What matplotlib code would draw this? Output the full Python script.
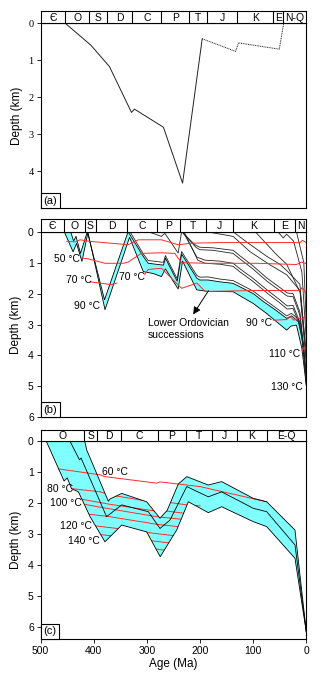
import numpy as np
import matplotlib.pyplot as plt
from matplotlib.offsetbox import AnchoredText

plt.rcParams['font.family'] = ['Liberation Sans', 'DejaVu Sans']
plt.rcParams['font.size'] = 7.5
plt.rcParams['axes.linewidth'] = 0.8

# ---------------- data (a) ----------------
a_age = [491, 439, 401, 356, 350, 291, 252, 212]
a_depth = [0, 0.59, 1.17, 2.41, 2.32, 2.81, 4.32, 0.42]
a_age_dot = [212, 144, 138, 55, 46]
a_depth_dot = [0.42, 0.76, 0.53, 0.70, 0.0]
a_bounds = [491, 442, 405, 354.5, 295.4, 238.4, 201.7, 140.6, 67.3, 46.9]
a_periods = ['Є', 'O', 'S', 'D', 'C', 'P', 'T', 'J', 'K', 'E', 'N-Q']

# ---------------- data (b) ----------------
b_bounds = [493.5, 451.4, 427.8, 364.6, 304.1, 257.3, 204.3, 148.7, 65.8, 23.1]
b_periods = ['Є', 'O', 'S', 'D', 'C', 'P', 'T', 'J', 'K', 'E', 'N']

# Lower Ordovician succession: top and base horizons
b_top_age = [480, 474, 469, 460, 446, 411, 363, 332, 322, 291, 287, 263, 254, 223, 217,
             200, 176, 149, 108, 88, 67, 40, 30, 16, 6, 0]
b_top_depth = [0, 0.3, 0.15, 0.7, 0, 2.2, 0, 0.8, 1.02, 1.08, 0.85, 1.6, 0.72, 1.5, 1.56,
               1.56, 1.62, 1.67, 2.0, 2.25, 2.48, 2.8, 2.72, 2.91, 3.67, 4.95]
b_base_age = [493, 475, 468, 457, 444.7, 410, 360, 332, 312, 295, 287, 261, 252, 223,
              200, 149, 108, 81, 40, 31, 20, 9, 0]
b_base_depth = [0, 0.65, 0.38, 0.96, 0.02, 2.52, 0.18, 1.29, 1.35, 1.45, 1.2, 1.85, 0.95,
                1.88, 1.93, 1.94, 2.32, 2.64, 3.18, 3.05, 3.02, 3.77, 4.97]

# younger horizons
b_hor = {
    'upper_O': ([359, 332, 322, 291, 287, 263, 254, 223, 217, 200, 176, 149, 108, 88, 67,
                 40, 30, 16, 6, 0],
                [0, 0.72, 0.93, 0.99, 0.77, 1.52, 0.64, 1.41, 1.47, 1.46, 1.53, 1.58, 1.92,
                 2.16, 2.4, 2.72, 2.64, 2.83, 3.6, 4.9]),
    'P': ([322, 295, 288, 261, 254], [0, 0.15, 0.05, 0.69, 0]),
    'T1': ([254, 227, 217, 190, 149, 135, 109, 80, 54, 39, 27, 13, 0],
           [0, 0.42, 0.5, 0.52, 0.6, 0.78, 1.1, 1.5, 1.8, 1.98, 2.0, 2.6, 4.6]),
    'T2': ([253, 225, 217, 190, 149, 135, 109, 80, 54, 39, 27, 13, 0],
           [0, 0.5, 0.58, 0.6, 0.7, 0.88, 1.2, 1.6, 1.9, 2.08, 2.1, 2.7, 4.65]),
    'T3': ([251, 223, 206, 176, 149, 135, 109, 80, 54, 39, 27, 11, 0],
           [0, 0.82, 0.92, 0.95, 1.02, 1.2, 1.5, 1.88, 2.2, 2.4, 2.38, 3.0, 4.75]),
    'T4': ([249, 221, 206, 176, 149, 135, 109, 80, 54, 39, 27, 11, 0],
           [0, 0.92, 1.02, 1.05, 1.12, 1.3, 1.6, 1.98, 2.3, 2.5, 2.48, 3.1, 4.8]),
    'J': ([203, 149, 115, 74, 40, 13, 0], [0, 0.15, 0.64, 1.07, 1.39, 1.9, 4.3]),
    'K1': ([149, 120, 80, 54, 40, 13, 0], [0, 0.35, 0.8, 1.05, 1.25, 1.7, 4.1]),
    'K2': ([104, 60, 40, 12, 0], [0, 0.75, 1.05, 1.98, 3.9]),
    'E': ([58, 47, 40, 26, 9, 0], [0, 0.2, 0.08, 0.3, 1.3, 3.5]),
    'N': ([20, 5, 0], [0, 1.0, 3.0]),
}

# isotherms (b)
b_iso = [
    ([488, 470, 461, 441, 363, 342, 295, 261, 234, 176, 13, 8, 0],
     [0.31, 0.33, 0.26, 0.31, 0.42, 0.26, 0.26, 0.42, 0.37, 0.35, 0.35, 0.28, 0.35]),
    ([457.5, 446, 410, 372, 363, 336, 295, 268, 254, 200, 100, 20, 10, 0],
     [0.85, 0.87, 1.02, 1.02, 0.98, 0.7, 0.68, 0.7, 1.0, 1.02, 1.02, 1.06, 0.98, 1.03]),
    ([440.6, 396.4, 386], [1.62, 1.71, 1.66]),
    ([329, 322, 295, 254, 223, 206, 100, 13, 8, 0],
     [1.38, 1.22, 1.18, 1.83, 1.66, 1.93, 1.9, 1.9, 1.8, 2.0]),
    ([67, 40, 33, 25, 16, 8, 4, 0], [2.86, 2.84, 2.75, 2.86, 2.8, 2.83, 2.75, 2.82]),
    ([8, 4, 0], [3.85, 3.72, 3.8]),
]
b_labels = ['50 °C', '70 °C', '70 °C', '90 °C', '90 °C', '110 °C', '130 °C']
b_lab_age = [461, 436.5, 328.6, 420.2, 69.9, 12.9, 6.8]
b_lab_depth = [0.89, 1.56, 1.46, 2.40, 2.94, 3.94, 5.02]

# ---------------- data (c) ----------------
c_bounds = [418.5, 393.4, 348.3, 279.2, 227.0, 176.9, 131.0, 73.4]
c_periods = ['O', 'S', 'D', 'C', 'P', 'T', 'J', 'K', 'E-Q']

c_base_age = [490, 456, 450, 442, 429, 407, 379, 347.5, 300.5, 275, 244, 222, 184.5,
              159.3, 99.8, 74.5, 21.3, 0]
c_base_depth = [0, 1.3, 1.2, 1.55, 1.65, 2.45, 3.26, 2.72, 2.94, 3.74, 2.88, 1.97, 2.32,
                2.13, 2.61, 2.77, 3.79, 6.16]
c_mid_age = [445.4, 430.5, 427, 424, 376, 347.5, 297.4, 275.4, 256.6, 225, 184.5, 159.3,
             99.8, 74.5, 21.3, 0]
c_mid_depth = [0, 0.5, 0.62, 0.56, 2.45, 2.07, 2.29, 2.83, 2.56, 1.48, 1.81, 1.65, 2.18,
               2.29, 3.36, 6.16]
c_top_age = [417.2, 413.4, 372.7, 369.5, 347.5, 300.5, 275.4, 262, 241, 225, 184.5, 159.3,
             99.8, 74.5, 21.3, 0]
c_top_depth = [0, 0.3, 1.95, 1.88, 1.7, 1.97, 2.5, 2.25, 1.4, 1.16, 1.43, 1.32, 1.86, 1.97,
               2.88, 6.16]

c_iso60 = ([466.9, 388.4, 379, 281.6, 275.4, 200.1, 74.5],
           [0.91, 1.1, 1.16, 1.37, 1.33, 1.48, 1.97])
c_iso = [
    ([445, 388, 369, 282, 275, 225, 200], [1.54, 1.65, 1.75, 2.0, 1.95, 2.07, 2.1]),
    ([435, 370, 280, 272, 225, 200], [1.85, 2.05, 2.28, 2.25, 2.35, 2.38]),
    ([428, 376, 282, 225, 200], [2.02, 2.18, 2.45, 2.55, 2.6]),
    ([420, 370, 280, 225, 200], [2.35, 2.45, 2.7, 2.8, 2.85]),
    ([410, 370, 280, 230, 200], [2.72, 2.8, 3.0, 3.1, 3.15]),
    ([400, 280, 230, 200], [3.0, 3.25, 3.35, 3.4]),
    ([395, 280, 230, 200], [3.24, 3.5, 3.6, 3.65]),
]
c_labels = ['60 °C', '80 °C', '100 °C', '120 °C', '140 °C']
c_lab_age = [384.6, 439.2, 422.3, 403.4, 388.4]
c_lab_depth = [1.0, 1.57, 2.02, 2.75, 3.24]

cyan = '#80ffff'
red = '#ff2a2a'

fig = plt.figure(figsize=(3.22, 6.8), dpi=100)
X0, W = 0.1264, 0.8248


def header(rect, xmax, bounds, names):
    hx = fig.add_axes(rect)
    hx.set_xlim(xmax, 0)
    hx.set_ylim(0, 1)
    hx.set_xticks([])
    hx.set_yticks([])
    edges = [xmax] + bounds + [0]
    for b in bounds:
        hx.axvline(b, color='k', lw=0.8)
    for i, n in enumerate(names):
        hx.text((edges[i] + edges[i + 1]) / 2, 0.45, n, ha='center', va='center', fontsize=7.5)
    return hx


def panel(rect, xmax, ymax, yticks, tag):
    ax = fig.add_axes(rect)
    ax.set_xlim(xmax, 0)
    ax.set_ylim(ymax, 0)
    ax.set_yticks(yticks)
    ax.tick_params(direction='out', length=3, width=0.6, labelsize=7.5, pad=2)
    ax.set_ylabel('Depth (km)', fontsize=8.5, labelpad=4)
    at = AnchoredText(tag, loc='lower left', prop=dict(size=8), frameon=True,
                      pad=0.25, borderpad=0)
    at.patch.set_boxstyle('square,pad=0')
    at.patch.set_linewidth(0.8)
    ax.add_artist(at)
    return ax


# ---- panel (a)
ax1 = panel([X0, 0.6937, W, 0.2721], 541, 5, [0, 1, 2, 3, 4], '(a)')
header([X0, 0.9657, W, 0.0185], 541, a_bounds, a_periods)
ax1.set_xticks([])
ax1.plot(a_age, a_depth, color='#222222', lw=0.7)
ax1.plot(a_age_dot, a_depth_dot, color='#222222', lw=0.7, ls=(0, (1, 0.8)))
for t in ax1.get_yticklabels():
    t.set_family('Liberation Serif')

# ---- panel (b)
ax2 = panel([X0, 0.3863, W, 0.2729], 541, 6, [0, 1, 2, 3, 4, 5, 6], '(b)')
header([X0, 0.6593, W, 0.0187], 541, b_bounds, b_periods)
ax2.set_xticks([])
ax2.fill(b_base_age + b_top_age[::-1], b_base_depth + b_top_depth[::-1],
         color=cyan, lw=0)
ax2.plot(b_top_age, b_top_depth, color='k', lw=0.6)
ax2.plot(b_base_age, b_base_depth, color='k', lw=0.6)
for name, (hx_, hy_) in b_hor.items():
    ax2.plot(hx_, hy_, color='#222222', lw=0.6)
for ix, iy in b_iso:
    ax2.plot(ix, iy, color=red, lw=0.7)
for s, xa, yd in zip(b_labels, b_lab_age, b_lab_depth):
    ax2.text(xa, yd, s, ha='right', va='center', fontsize=7.5)
ax2.annotate('', xy=(233.5, 2.75), xytext=(196.2, 1.83),
             arrowprops=dict(arrowstyle='-|>', color='k', lw=0.7, mutation_scale=11))
ax2.text(322, 2.8, 'Lower Ordovician\nsuccessions', ha='left', va='top',
         fontsize=7.5, linespacing=1.15)

# ---- panel (c)
ax3 = panel([X0, 0.0599, W, 0.2921], 500, 6.4, [0, 1, 2, 3, 4, 5, 6], '(c)')
header([X0, 0.3519, W, 0.0154], 500, c_bounds, c_periods)
ax3.set_xticks([500, 400, 300, 200, 100, 0])
ax3.set_xlabel('Age (Ma)', fontsize=8.5, labelpad=1)
band = ax3.fill(c_base_age + c_top_age[::-1], c_base_depth + c_top_depth[::-1],
                color=cyan, lw=0)[0]
for ix, iy in c_iso:
    ln, = ax3.plot(ix, iy, color=red, lw=0.7)
    ln.set_clip_path(band)
ax3.plot(c_iso60[0], c_iso60[1], color=red, lw=0.7)
ax3.plot(c_top_age, c_top_depth, color='k', lw=0.6)
ax3.plot(c_mid_age, c_mid_depth, color='k', lw=0.6)
ax3.plot(c_base_age, c_base_depth, color='k', lw=0.6)
for i, (s, xa, yd) in enumerate(zip(c_labels, c_lab_age, c_lab_depth)):
    ax3.text(xa, yd, s, ha='left' if i == 0 else 'right', va='center', fontsize=7.5)

fig.savefig('out.png', dpi=100)
